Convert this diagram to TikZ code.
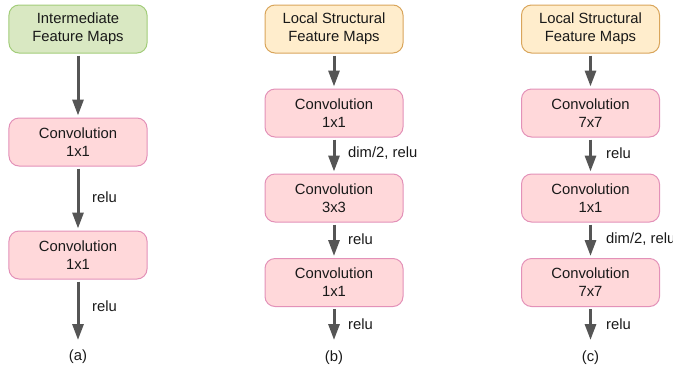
\documentclass[tikz,border=0pt]{standalone}
\usepackage{fontspec}
\setmainfont{Liberation Sans}
\usetikzlibrary{arrows.meta}
\definecolor{gfill}{HTML}{D9E8C2}
\definecolor{gdraw}{HTML}{A3CD7A}
\definecolor{ofill}{HTML}{FFEDCC}
\definecolor{odraw}{HTML}{D9A55B}
\definecolor{pfill}{HTML}{FFD8DA}
\definecolor{pdraw}{HTML}{E391B8}
\definecolor{arr}{HTML}{555555}
\tikzset{
  x=1bp, y=-1bp,
  every node/.style={font=\fontsize{14.8bp}{17.8bp}\selectfont, text=black!90},
  box/.style={rectangle, rounded corners=10bp, minimum width=138bp, minimum height=48bp, inner sep=0pt, align=center, line width=1bp},
  gbox/.style={box, fill=gfill, draw=gdraw},
  obox/.style={box, fill=ofill, draw=odraw},
  pbox/.style={box, fill=pfill, draw=pdraw},
  flow/.style={draw=arr, line width=3bp, -{Triangle[length=16bp, width=11bp]}, shorten <=2bp, shorten >=2bp},
  lbl/.style={anchor=west, inner sep=0pt}
}
\begin{document}
\begin{tikzpicture}
\useasboundingbox (0,0) rectangle (673,373);
% (a)
\node[gbox] (a1) at (78,29) {Intermediate\\Feature Maps};
\node[pbox] (a2) at (78,142) {Convolution\\1x1};
\node[pbox] (a3) at (78,255) {Convolution\\1x1};
\coordinate (aend) at (78,342);
\draw[flow] (a1) -- (a2);
\draw[flow] (a2) -- (a3);
\draw[flow] (a3) -- (aend);
\node[lbl] (ar1) at (92,197) {relu};
\node[lbl] (ar2) at (92,306) {relu};
\node (acap) at (78,357) {(a)};
% (b)
\node[obox] (b1) at (334,29) {Local Structural\\Feature Maps};
\node[pbox] (b2) at (334,113) {Convolution\\1x1};
\node[pbox] (b3) at (334,198) {Convolution\\3x3};
\node[pbox] (b4) at (334,282.5) {Convolution\\1x1};
\coordinate (bend) at (334,342);
\draw[flow] (b1) -- (b2);
\draw[flow] (b2) -- (b3);
\draw[flow] (b3) -- (b4);
\draw[flow] (b4) -- (bend);
\node[lbl] (br1) at (348,153) {dim/2, relu};
\node[lbl] (br2) at (348,239) {relu};
\node[lbl] (br3) at (348,324) {relu};
\node (bcap) at (334,358) {(b)};
% (c)
\node[obox] (c1) at (590.5,29) {Local Structural\\Feature Maps};
\node[pbox] (c2) at (590.5,113) {Convolution\\7x7};
\node[pbox] (c3) at (590.5,198) {Convolution\\1x1};
\node[pbox] (c4) at (590.5,282.5) {Convolution\\7x7};
\coordinate (cend) at (590.5,342);
\draw[flow] (c1) -- (c2);
\draw[flow] (c2) -- (c3);
\draw[flow] (c3) -- (c4);
\draw[flow] (c4) -- (cend);
\node[lbl] (cr1) at (606,153) {relu};
\node[lbl] (cr2) at (606,239) {dim/2, relu};
\node[lbl] (cr3) at (606,324) {relu};
\node (ccap) at (590.5,358) {(c)};
\end{tikzpicture}
\end{document}
